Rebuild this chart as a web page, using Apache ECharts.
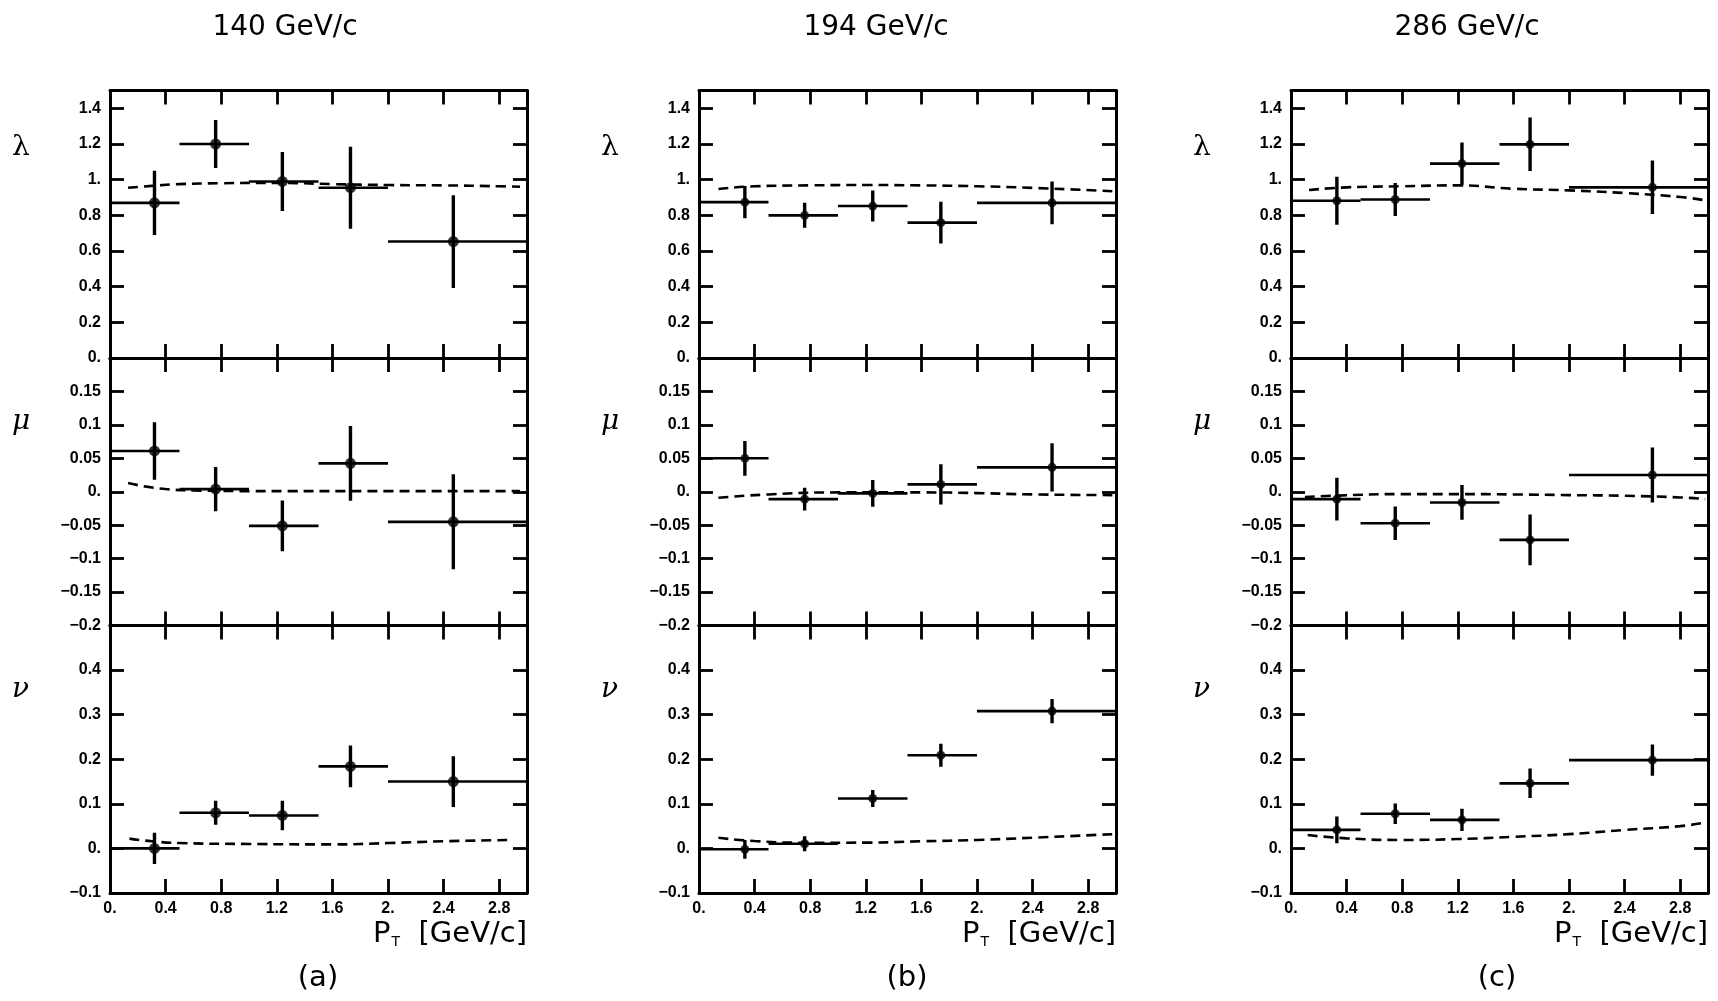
<!DOCTYPE html>
<html>
<head>
<meta charset="utf-8">
<script src="https://cdn.jsdelivr.net/npm/echarts@6/dist/echarts.min.js"></script>
<style>
  html, body { margin: 0; padding: 0; background: #fff; }
  #chart { width: 1718px; height: 1001px; }
</style>
</head>
<body>
<div id="chart"></div>
<script>
// beam momenta and panel tags
var beams = ['140 GeV/c', '194 GeV/c', '286 GeV/c'];
var tags = ['(a)', '(b)', '(c)'];
var params = ['λ', 'μ', 'ν'];

// P_T bins (GeV/c)
var binLo = [0, 0.5, 1.0, 1.5, 2.0];
var binHi = [0.5, 1.0, 1.5, 2.0, 3.0];

// 140 GeV/c
var ptA = [0.32, 0.76, 1.24, 1.73, 2.47];
var lamA = [0.87, 1.20, 0.99, 0.955, 0.653];
var lamErrA = [0.18, 0.135, 0.165, 0.23, 0.26];
var muA = [0.061, 0.004, -0.051, 0.0425, -0.045];
var muErrA = [0.043, 0.033, 0.038, 0.056, 0.071];
var nuA = [0.0, 0.080, 0.074, 0.184, 0.150];
var nuErrA = [0.035, 0.027, 0.033, 0.047, 0.057];

// 194 GeV/c
var ptB = [0.33, 0.76, 1.25, 1.74, 2.54];
var lamB = [0.874, 0.80, 0.852, 0.759, 0.87];
var lamErrB = [0.09, 0.07, 0.087, 0.117, 0.12];
var muB = [0.05, -0.011, -0.0025, 0.011, 0.0365];
var muErrB = [0.026, 0.017, 0.02, 0.03, 0.036];
var nuB = [-0.002, 0.0105, 0.112, 0.209, 0.308];
var nuErrB = [0.021, 0.017, 0.019, 0.026, 0.027];

// 286 GeV/c
var ptC = [0.33, 0.75, 1.23, 1.72, 2.60];
var lamC = [0.882, 0.889, 1.09, 1.198, 0.957];
var lamErrC = [0.135, 0.093, 0.118, 0.15, 0.15];
var muC = [-0.011, -0.047, -0.016, -0.072, 0.025];
var muErrC = [0.032, 0.025, 0.026, 0.038, 0.041];
var nuC = [0.0415, 0.0777, 0.064, 0.146, 0.198];
var nuErrC = [0.03, 0.023, 0.025, 0.033, 0.035];

// model curves (dashed)
var lamModelA = [[0.13,0.955],[0.3,0.965],[0.5,0.975],[0.8,0.98],[1.2,0.982],[1.6,0.975],[2.0,0.97],[2.4,0.968],[2.8,0.963],[2.95,0.96]];
var muModelA = [[0.13,0.013],[0.25,0.008],[0.4,0.004],[0.6,0.002],[1.0,0.001],[2.0,0.001],[2.95,0.001]];
var nuModelA = [[0.14,0.022],[0.3,0.016],[0.5,0.012],[1.0,0.01],[1.6,0.009],[2.0,0.012],[2.4,0.016],[2.9,0.019]];
var lamModelB = [[0.14,0.948],[0.4,0.963],[0.8,0.968],[1.2,0.97],[1.6,0.968],[2.0,0.963],[2.4,0.954],[2.98,0.935]];
var muModelB = [[0.14,-0.009],[0.5,-0.004],[1.0,-0.001],[1.6,-0.001],[2.0,-0.002],[2.4,-0.004],[2.98,-0.005]];
var nuModelB = [[0.14,0.024],[0.4,0.0165],[0.8,0.0128],[1.2,0.013],[1.6,0.016],[2.0,0.019],[2.4,0.024],[2.98,0.032]];
var lamModelC = [[0.13,0.942],[0.4,0.957],[0.8,0.963],[1.2,0.968],[1.6,0.949],[2.0,0.94],[2.4,0.925],[2.8,0.903],[2.98,0.884]];
var muModelC = [[0.1,-0.008],[0.3,-0.006],[0.8,-0.0035],[1.2,-0.0035],[1.6,-0.004],[2.0,-0.005],[2.4,-0.006],[2.8,-0.0085],[2.98,-0.011]];
var nuModelC = [[0.12,0.03],[0.4,0.0226],[0.8,0.019],[1.2,0.021],[1.6,0.026],[2.0,0.032],[2.4,0.0415],[2.8,0.05],[2.98,0.058]];

// y ranges per row
var yMin = [0, -0.2, -0.1];
var yMax = [1.5, 0.2, 0.5];
var yStep = [0.2, 0.05, 0.1];
var xTicks = ['0.', '0.4', '0.8', '1.2', '1.6', '2.', '2.4', '2.8'];

var sets = [
  { pt: ptA, val: [lamA, muA, nuA], err: [lamErrA, muErrA, nuErrA], model: [lamModelA, muModelA, nuModelA], dot: 11 },
  { pt: ptB, val: [lamB, muB, nuB], err: [lamErrB, muErrB, nuErrB], model: [lamModelB, muModelB, nuModelB], dot: 9 },
  { pt: ptC, val: [lamC, muC, nuC], err: [lamErrC, muErrC, nuErrC], model: [lamModelC, muModelC, nuModelC], dot: 9 }
];

var panelLeft = [110, 699, 1291];
var panelW = 417;
var rowTop = [90.5, 358, 625.5];
var rowH = 267.5;

function yFmt(v) {
  var r = Math.round(v * 1000) / 1000;
  if (r === 0) return '0.';
  var s = Number.isInteger(r) ? r + '.' : String(r);
  return s.replace('-', '\u2212');
}

function renderCross(p, api) {
  var x = api.value(0), y = api.value(1), lo = api.value(2), hi = api.value(3), e = api.value(4);
  var a = api.coord([lo, y]), b = api.coord([hi, y]);
  var t = api.coord([x, y + e]), d = api.coord([x, y - e]);
  return {
    type: 'group',
    children: [
      { type: 'line', shape: { x1: a[0], y1: a[1], x2: b[0], y2: b[1] }, style: { stroke: '#000', lineWidth: 2.6 } },
      { type: 'line', shape: { x1: t[0], y1: t[1], x2: d[0], y2: d[1] }, style: { stroke: '#000', lineWidth: 3.4 } }
    ]
  };
}

var lblFont = { fontFamily: 'Liberation Sans', fontWeight: 'bold', fontSize: 16, color: '#000' };
var grids = [], xAxes = [], yAxes = [], series = [], graphics = [];

for (var p = 0; p < 3; p++) {
  for (var r = 0; r < 3; r++) {
    var g = p * 3 + r;
    grids.push({ left: panelLeft[p], top: rowTop[r], width: panelW, height: rowH });
    var lineSt = { show: true, onZero: false, lineStyle: { color: '#000', width: 3 } };
    var tickSt = { show: true, inside: true, length: 14, lineStyle: { color: '#000', width: 2.8 } };
    xAxes.push({
      type: 'value', gridIndex: g, position: 'bottom', min: 0, max: 3, interval: 0.4,
      axisLine: lineSt, axisTick: tickSt, splitLine: { show: false },
      axisLabel: Object.assign({
        show: r === 2, margin: 8, showMaxLabel: false,
        formatter: function (v) { var i = Math.round(v / 0.4); return Math.abs(v - i * 0.4) < 1e-6 ? xTicks[i] : ''; }
      }, lblFont)
    });
    xAxes.push({
      type: 'value', gridIndex: g, position: 'top', min: 0, max: 3, interval: 0.4,
      axisLine: lineSt, axisTick: tickSt, splitLine: { show: false }, axisLabel: { show: false }
    });
    yAxes.push({
      type: 'value', gridIndex: g, position: 'left', min: yMin[r], max: yMax[r], interval: yStep[r],
      axisLine: lineSt, axisTick: tickSt, splitLine: { show: false },
      axisLabel: Object.assign({ margin: 9, showMaxLabel: false, formatter: yFmt }, lblFont)
    });
    yAxes.push({
      type: 'value', gridIndex: g, position: 'right', min: yMin[r], max: yMax[r], interval: yStep[r],
      axisLine: lineSt, axisTick: tickSt, splitLine: { show: false }, axisLabel: { show: false }
    });

    var s = sets[p];
    var crosses = [], dots = [];
    for (var i = 0; i < s.pt.length; i++) {
      crosses.push([s.pt[i], s.val[r][i], binLo[i], binHi[i], s.err[r][i]]);
      dots.push([s.pt[i], s.val[r][i]]);
    }
    series.push({
      type: 'custom', xAxisIndex: 2 * g, yAxisIndex: 2 * g, renderItem: renderCross,
      encode: { x: 0, y: 1 }, data: crosses, silent: true, clip: true
    });
    series.push({
      type: 'scatter', xAxisIndex: 2 * g, yAxisIndex: 2 * g, symbol: 'circle', symbolSize: s.dot,
      itemStyle: { color: '#000' }, data: dots, silent: true
    });
    series.push({
      type: 'line', xAxisIndex: 2 * g, yAxisIndex: 2 * g, smooth: true, showSymbol: false,
      lineStyle: { color: '#000', width: 2.6, type: [10, 6] }, data: s.model[r], silent: true
    });

    // parameter label
    graphics.push({
      type: 'text', left: panelLeft[p] - 98, top: rowTop[r] + [43, 50, 50][r],
      style: { text: params[r], fontFamily: 'DejaVu Serif', fontStyle: r ? 'italic' : 'normal', fontSize: 28, fill: '#000' }
    });
  }
  // beam title
  graphics.push({
    type: 'text', x: panelLeft[p] + [175, 177, 176][p], y: 28,
    style: { text: beams[p], fontFamily: 'DejaVu Sans', fontSize: 28, fill: '#000', align: 'center', verticalAlign: 'middle' }
  });
  // x axis title
  graphics.push({
    type: 'text', x: panelLeft[p] + panelW, y: 934,
    style: {
      text: '{p|P}{s|T}{p|  [GeV/c]}', align: 'right', verticalAlign: 'middle',
      rich: {
        p: { fontFamily: 'DejaVu Sans', fontSize: 29, fill: '#000' },
        s: { fontFamily: 'DejaVu Sans', fontSize: 14, fill: '#000', padding: [16, 0, 0, 1] }
      }
    }
  });
  // panel tag
  graphics.push({
    type: 'text', x: panelLeft[p] + [208, 208, 206][p], y: 978,
    style: { text: tags[p], fontFamily: 'DejaVu Sans', fontSize: 29, fill: '#000', align: 'center', verticalAlign: 'middle' }
  });
}

var chart = echarts.init(document.getElementById('chart'));
chart.setOption({
  animation: false,
  backgroundColor: '#fff',
  grid: grids,
  xAxis: xAxes,
  yAxis: yAxes,
  series: series,
  graphic: graphics
});
</script>
</body>
</html>
